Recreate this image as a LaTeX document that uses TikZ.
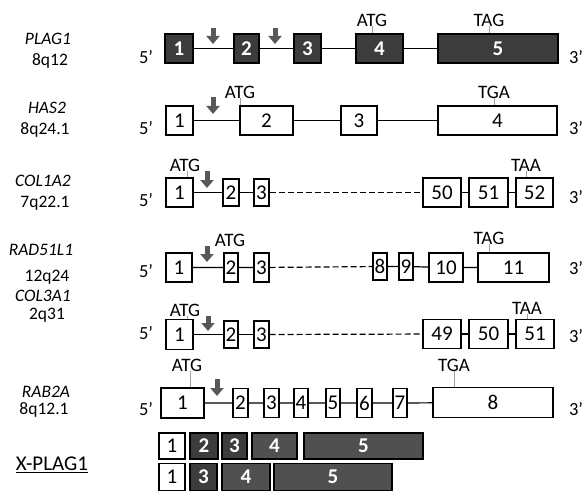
\documentclass[tikz,border=0pt]{standalone}
\usepackage{fontspec}
\setmainfont{Carlito}
\usetikzlibrary{arrows.meta,positioning}
\definecolor{ExonDark}{HTML}{3C3C3C}
\definecolor{ExonMid}{HTML}{505050}
\definecolor{CutGray}{HTML}{585858}
\definecolor{TickGray}{HTML}{A0A0A0}

\begin{document}
\begin{tikzpicture}[x=1pt,y=-1pt]
  \tikzset{
    exon/.style={draw=black,line width=1.1pt,fill=white,minimum height=29pt,inner sep=0pt,font=\fontsize{21}{21}\selectfont},
    exond/.style={exon,fill=ExonDark,text=white,font=\fontsize{21}{21}\selectfont\bfseries},
    exonm/.style={exond,fill=ExonMid},
    narrow/.style={minimum height=27pt},
    intron/.style={line width=1.2pt},
    gap/.style={intron,dash pattern=on 6pt off 3pt},
    codon/.style={inner sep=0pt,font=\fontsize{19}{19}\selectfont},
    tick/.style={draw=TickGray,line width=0.6pt},
    cutarrow/.style={draw=CutGray,line width=5pt,-{Triangle[width=13pt,length=8pt]}},
    gene/.style={inner sep=0pt,font=\fontsize{17.5}{17.5}\selectfont\itshape},
    locus/.style={inner sep=0pt,font=\fontsize{17.5}{17.5}\selectfont},
    prime/.style={inner sep=0pt,font=\fontsize{18.5}{18.5}\selectfont}
  }
  \useasboundingbox (0,0) rectangle (586,492);

  % PLAG1
  \node[gene] (g1) at (48,39) {PLAG1};
  \node[locus] (l1) at (50,61) {8q12};
  \node[prime] (f1) at (146,57) {5’};
  \node[exond,minimum width=28pt] (a1) at (179,48.5) {1};
  \node[exond,minimum width=25pt] (a2) at (246.5,48.5) {2};
  \node[exond,minimum width=27pt] (a3) at (307.5,48.5) {3};
  \node[exond,minimum width=47pt] (a4) at (379.5,48.5) {4};
  \node[exond,minimum width=120pt] (a5) at (498,48.5) {5};
  \node[prime] (t1) at (576,57) {3’};
  \draw[intron] (a1) -- (a2) (a2) -- (a3) (a3) -- (a4) (a4) -- (a5);
  \node[codon] (ca1) at (372,20) {ATG};
  \node[codon] (ca2) at (489,20) {TAG};
  \draw[tick] (ca1.south) -- (ca1.south |- a4.north);
  \draw[tick] (ca2.south) -- (ca2.south |- a5.north);
  \draw[cutarrow] (213,28) -- (213,44);
  \draw[cutarrow] (275,28) -- (275,44);

  % HAS2
  \node[gene] (g2) at (47,108) {HAS2};
  \node[locus] (l2) at (45,130) {8q24.1};
  \node[prime] (f2) at (146,128) {5’};
  \node[exon,minimum width=27pt] (b1) at (179.5,120.5) {1};
  \node[exon,minimum width=53pt] (b2) at (266.5,120.5) {2};
  \node[exon,minimum width=36pt] (b3) at (359,120.5) {3};
  \node[exon,minimum width=119pt] (b4) at (497.5,120.5) {4};
  \node[prime] (t2) at (576,128) {3’};
  \draw[intron] (b1) -- (b2) (b2) -- (b3) (b3) -- (b4);
  \node[codon] (cb1) at (240,92) {ATG};
  \node[codon] (cb2) at (494,92) {TGA};
  \draw[tick] (cb1.south) -- (cb1.south |- b2.north);
  \draw[tick] (cb2.south) -- (cb2.south |- b4.north);
  \draw[cutarrow] (213,97) -- (213,114);

  % COL1A2
  \node[gene] (g3) at (43,181) {COL1A2};
  \node[locus] (l3) at (45,203) {7q22.1};
  \node[prime] (f3) at (146,200) {5’};
  \node[exon,minimum width=27pt] (c1) at (179.5,192.5) {1};
  \node[exon,narrow,minimum width=16pt] (c2) at (231,192.5) {2};
  \node[exon,narrow,minimum width=15pt] (c3) at (261.5,192.5) {3};
  \node[exon,minimum width=38pt] (c50) at (442,192.5) {50};
  \node[exon,minimum width=39pt] (c51) at (488.5,192.5) {51};
  \node[exon,minimum width=37pt] (c52) at (534.5,192.5) {52};
  \node[prime] (t3) at (576,197) {3’};
  \draw[intron] (c1) -- (c2) (c2) -- (c3) (c50) -- (c51) (c51) -- (c52);
  \draw[gap] (c3) -- (c50);
  \node[codon] (cc1) at (185,165) {ATG};
  \node[codon] (cc2) at (526,165) {TAA};
  \draw[tick] ([xshift=2pt]cc1.south) -- ([xshift=2pt]cc1.south |- c1.north);
  \draw[tick] (cc2.south) -- (cc2.south |- c52.north);
  \draw[cutarrow] (207,171) -- (207,188);

  % RAD51L1
  \node[gene] (g4) at (41,250) {RAD51L1};
  \node[locus] (l4) at (47,277) {12q24};
  \node[prime] (f4) at (146,271) {5’};
  \node[exon,minimum width=26pt] (d1) at (179,267.5) {1};
  \node[exon,minimum width=14pt] (d2) at (231,267.5) {2};
  \node[exon,minimum width=15pt] (d3) at (261.5,267.5) {3};
  \node[exon,narrow,minimum width=14pt] (d8) at (380,266.5) {8};
  \node[exon,narrow,minimum width=14pt] (d9) at (406,266.5) {9};
  \node[exon,minimum width=34pt] (d10) at (446,267.5) {10};
  \node[exon,minimum width=71pt] (d11) at (513.5,267.5) {11};
  \node[prime] (t4) at (576,268) {3’};
  \draw[intron] (d1) -- (d2) (d2) -- (d3) (d8) -- (d9) (d9) -- (d10) (d10) -- (d11);
  \draw[gap] (d3) -- (d8);
  \node[codon] (cd1) at (230,240) {ATG};
  \node[codon] (cd2) at (489,238) {TAG};
  \draw[tick] (cd2.south) -- (cd2.south |- d11.north);
  \draw[cutarrow] (207,246) -- (207,262);

  % COL3A1
  \node[gene] (g5) at (43,296) {COL3A1};
  \node[locus] (l5) at (47,315) {2q31};
  \node[prime] (f5) at (146,333) {5’};
  \node[exon,minimum width=27pt,minimum height=30pt] (e1) at (179.5,334.5) {1};
  \node[exon,narrow,minimum width=14pt] (e2) at (231,334.5) {2};
  \node[exon,narrow,minimum width=15pt] (e3) at (261.5,334.5) {3};
  \node[exon,minimum width=38pt] (e49) at (442,334) {49};
  \node[exon,minimum width=39pt] (e50) at (488.5,334) {50};
  \node[exon,minimum width=38pt] (e51) at (535,334) {51};
  \node[prime] (t5) at (576,336) {3’};
  \draw[intron] (e1) -- (e2) (e2) -- (e3) (e49) -- (e50) (e50) -- (e51);
  \draw[gap] (e3) -- (e49);
  \node[codon] (ce1) at (185,310) {ATG};
  \node[codon] (ce2) at (527,308) {TAA};
  \draw[tick] ([xshift=2pt]ce1.south) -- ([xshift=2pt]ce1.south |- e1.north);
  \draw[tick] (ce2.south) -- (ce2.south |- e51.north);
  \draw[cutarrow] (208,316) -- (208,331);

  % RAB2A
  \node[gene] (g6) at (46,392) {RAB2A};
  \node[locus] (l6) at (44,410) {8q12.1};
  \node[prime] (f6) at (146,409) {5’};
  \node[exon,minimum width=43pt,minimum height=30pt] (h1) at (182.5,403) {1};
  \node[exon,minimum width=15pt] (h2) at (240.5,403) {2};
  \node[exon,minimum width=15pt] (h3) at (271.5,403) {3};
  \node[exon,minimum width=14pt] (h4) at (301,403) {4};
  \node[exon,minimum width=14pt] (h5) at (333,403) {5};
  \node[exon,minimum width=15pt] (h6) at (364.5,403) {6};
  \node[exon,minimum width=14pt] (h7) at (400,403) {7};
  \node[exon,minimum width=120pt,minimum height=30pt] (h8) at (493,402.5) {8};
  \node[prime] (t6) at (576,409) {3’};
  \draw[intron] (h1) -- (h2) (h2) -- (h3) (h3) -- (h4) (h4) -- (h5)
    (h5) -- (h6) (h6) -- (h7) (h7) -- (h8);
  \node[codon] (ch1) at (187,365) {ATG};
  \node[codon] (ch2) at (454,365) {TGA};
  \draw[tick] ([xshift=3pt]ch1.south) -- ([xshift=3pt]ch1.south |- h1.north);
  \draw[tick] (ch2.south) -- (ch2.south |- h8.north);
  \draw[cutarrow] (217,379) -- (217,396);

  % X-PLAG1 fusions
  \node[inner sep=0pt,font=\fontsize{21}{21}\selectfont] (xp) at (52,465) {\underline{X-PLAG1}};
  \node[exon,minimum width=26pt,minimum height=26pt] (x1) at (172,446) {1};
  \node[exond,minimum width=28pt,minimum height=26pt] (x2) at (204,446) {2};
  \node[exond,minimum width=25pt,minimum height=26pt] (x3) at (234.5,446) {3};
  \node[exonm,minimum width=45pt,minimum height=26pt] (x4) at (274.5,446) {4};
  \node[exonm,minimum width=119pt,minimum height=26pt] (x5) at (363.5,446) {5};
  \node[exon,minimum width=26pt,minimum height=27pt] (y1) at (172,477) {1};
  \node[exond,minimum width=27pt,minimum height=27pt] (y3) at (203.5,477) {3};
  \node[exonm,minimum width=48pt,minimum height=27pt] (y4) at (246,477) {4};
  \node[exonm,minimum width=118pt,minimum height=27pt] (y5) at (333,477) {5};
\end{tikzpicture}
\end{document}
